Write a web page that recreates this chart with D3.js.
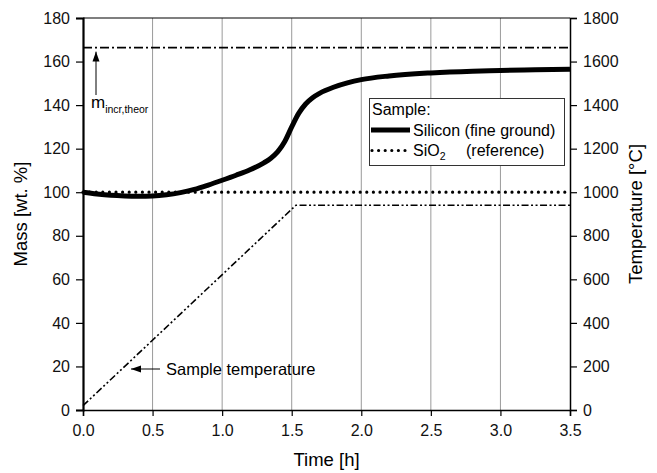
<!DOCTYPE html>
<html>
<head>
<meta charset="utf-8">
<script src="https://cdn.jsdelivr.net/npm/d3@7"></script>
<style>
  body { margin: 0; background: #fff; }
  svg { font-family: "Liberation Sans", Arial, sans-serif; }
</style>
</head>
<body>
<script>
/* chart values */
var timeTicks = [0, 0.5, 1.0, 1.5, 2.0, 2.5, 3.0, 3.5]
var massTicks = [0, 20, 40, 60, 80, 100, 120, 140, 160, 180]
var tempTicks = [0, 200, 400, 600, 800, 1000, 1200, 1400, 1600, 1800]

var siliconTime = [0, 0.1, 0.2, 0.3, 0.4, 0.5, 0.6, 0.7, 0.8, 0.9, 1.0, 1.1, 1.2, 1.3, 1.35, 1.4, 1.45, 1.5, 1.55, 1.6, 1.65, 1.7, 1.8, 1.9, 2.0, 2.2, 2.5, 2.8, 3.0, 3.25, 3.5]
var siliconMass = [100, 99.2, 98.6, 98.3, 98.2, 98.3, 98.8, 99.8, 101.3, 103.3, 105.5, 107.8, 110.3, 113.5, 115.6, 118.6, 123.3, 130, 136.2, 140.5, 143.4, 145.4, 148.2, 150.2, 151.7, 153.4, 154.8, 155.6, 155.9, 156.2, 156.5]

var refTime = [0, 3.5]
var refMass = [100, 100]

var tempTime = [0, 1.53, 3.5]
var tempValue = [20, 940, 940]

var mTheor = 166.4

/* layout */
var width = 657, height = 473
var margin = {left: 83, right: 87, top: 18, bottom: 63}

var svg = d3.select("body").append("svg")
    .attr("width", width)
    .attr("height", height)

var x = d3.scaleLinear().domain([0, 3.5]).range([margin.left, width - margin.right])
var y = d3.scaleLinear().domain([0, 180]).range([height - margin.bottom, margin.top])
var yT = d3.scaleLinear().domain([0, 1800]).range([height - margin.bottom, margin.top])

var defs = svg.append("defs")
defs.append("marker")
    .attr("id", "arrow")
    .attr("viewBox", "0 0 10 10")
    .attr("refX", 10).attr("refY", 5)
    .attr("markerWidth", 10).attr("markerHeight", 10)
    .attr("markerUnits", "userSpaceOnUse")
    .attr("orient", "auto")
    .append("path")
    .attr("d", "M0,1.5 L10,5 L0,8.5 Z")
    .attr("fill", "#000")

/* vertical grid */
svg.append("g")
    .selectAll("line")
    .data(timeTicks.slice(1, -1))
    .enter()
    .append("line")
    .attr("x1", function(d) { return x(d) })
    .attr("x2", function(d) { return x(d) })
    .attr("y1", y(0))
    .attr("y2", y(180))
    .attr("stroke", "#9a9a9a")
    .attr("stroke-width", 1)

/* top frame line */
svg.append("line")
    .attr("x1", x(0)).attr("x2", x(3.5))
    .attr("y1", y(180)).attr("y2", y(180))
    .attr("stroke", "#000").attr("stroke-width", 1.2)

/* axes */
function styleAxis(g, w) {
    g.selectAll(".domain").attr("stroke-width", w)
    g.selectAll(".tick line").attr("stroke-width", 1.2)
    g.selectAll("text").attr("font-size", "16px").attr("fill", "#111")
}

var xAxis = svg.append("g")
    .attr("transform", "translate(0," + y(0) + ")")
    .call(d3.axisBottom(x).tickValues(timeTicks).tickFormat(d3.format(".1f")).tickSizeOuter(0).tickSize(6).tickPadding(9))
    .attr("font-family", null)
styleAxis(xAxis, 1.5)

var yAxis = svg.append("g")
    .attr("transform", "translate(" + x(0) + ",0)")
    .call(d3.axisLeft(y).tickValues(massTicks).tickFormat(d3.format("d")).tickSizeOuter(0).tickSize(7).tickPadding(6))
    .attr("font-family", null)
styleAxis(yAxis, 2.2)

var yAxisR = svg.append("g")
    .attr("transform", "translate(" + x(3.5) + ",0)")
    .call(d3.axisRight(yT).tickValues(tempTicks).tickFormat(d3.format("d")).tickSizeOuter(0).tickSize(7).tickPadding(6))
    .attr("font-family", null)
styleAxis(yAxisR, 1.5)

/* axis titles */
svg.append("text")
    .attr("x", x(1.75)).attr("y", 466)
    .attr("text-anchor", "middle")
    .attr("font-size", "18.5px")
    .text("Time [h]")

svg.append("text")
    .attr("transform", "translate(27," + y(90) + ") rotate(-90)")
    .attr("text-anchor", "middle")
    .attr("font-size", "18.5px")
    .text("Mass [wt. %]")

svg.append("text")
    .attr("transform", "translate(642," + y(90) + ") rotate(-90)")
    .attr("text-anchor", "middle")
    .attr("font-size", "18.5px")
    .text("Temperature [°C]")

/* theoretical mass increase */
svg.append("line")
    .attr("x1", x(0)).attr("x2", x(3.5))
    .attr("y1", y(mTheor)).attr("y2", y(mTheor))
    .attr("stroke", "#000")
    .attr("stroke-width", 1.6)
    .attr("stroke-dasharray", "9,3,2,3")

svg.append("line")
    .attr("x1", 96).attr("x2", 96)
    .attr("y1", 95).attr("y2", y(mTheor) + 4)
    .attr("stroke", "#000").attr("stroke-width", 1)
    .attr("marker-end", "url(#arrow)")

var mLabel = svg.append("text")
    .attr("x", 91).attr("y", 108)
    .attr("font-size", "17px")
mLabel.append("tspan").text("m")
mLabel.append("tspan").attr("dy", 5).attr("font-size", "10.5px").text("incr,theor")

/* lines */
var line = d3.line()
    .x(function(d) { return x(d[0]) })
    .y(function(d) { return y(d[1]) })

var tline = d3.line()
    .x(function(d) { return x(d[0]) })
    .y(function(d) { return yT(d[1]) })

svg.append("path")
    .datum(tempTime.map(function(t, i) { return [t, tempValue[i]] }))
    .attr("d", tline)
    .attr("fill", "none")
    .attr("stroke", "#000")
    .attr("stroke-width", 1.6)
    .attr("stroke-dasharray", "7,2.5,2,2.5,2,2.5")

svg.append("path")
    .datum(refTime.map(function(t, i) { return [t, refMass[i]] }))
    .attr("d", line)
    .attr("fill", "none")
    .attr("stroke", "#000")
    .attr("stroke-width", 3.2)
    .attr("stroke-linecap", "round")
    .attr("stroke-dasharray", "0,6.6")

svg.append("path")
    .datum(siliconTime.map(function(t, i) { return [t, siliconMass[i]] }))
    .attr("d", line.curve(d3.curveMonotoneX))
    .attr("fill", "none")
    .attr("stroke", "#000")
    .attr("stroke-width", 5)

/* sample temperature label */
svg.append("line")
    .attr("x1", 160).attr("x2", 131)
    .attr("y1", 369).attr("y2", 369)
    .attr("stroke", "#000").attr("stroke-width", 1)
    .attr("marker-end", "url(#arrow)")

svg.append("text")
    .attr("x", 166).attr("y", 375)
    .attr("font-size", "16.5px")
    .text("Sample temperature")

/* legend */
var lg = svg.append("g")
lg.append("rect")
    .attr("x", 369.5).attr("y", 98.5)
    .attr("width", 195).attr("height", 67)
    .attr("fill", "#fff")
    .attr("stroke", "#333")
    .attr("stroke-width", 1)

lg.append("text").attr("x", 372).attr("y", 115).attr("font-size", "16px").text("Sample:")

lg.append("line")
    .attr("x1", 371).attr("x2", 410)
    .attr("y1", 130).attr("y2", 130)
    .attr("stroke", "#000").attr("stroke-width", 5)
lg.append("text").attr("x", 413).attr("y", 135.5).attr("font-size", "16px").text("Silicon (fine ground)")

lg.append("line")
    .attr("x1", 372).attr("x2", 410)
    .attr("y1", 150.5).attr("y2", 150.5)
    .attr("stroke", "#000").attr("stroke-width", 3.2)
    .attr("stroke-linecap", "round")
    .attr("stroke-dasharray", "0,6.6")
var sio = lg.append("text").attr("x", 413).attr("y", 156).attr("font-size", "16px")
sio.append("tspan").text("SiO")
sio.append("tspan").attr("dy", 4).attr("font-size", "10.5px").text("2")
lg.append("text").attr("x", 466).attr("y", 156).attr("font-size", "16px").text("(reference)")
</script>
</body>
</html>
